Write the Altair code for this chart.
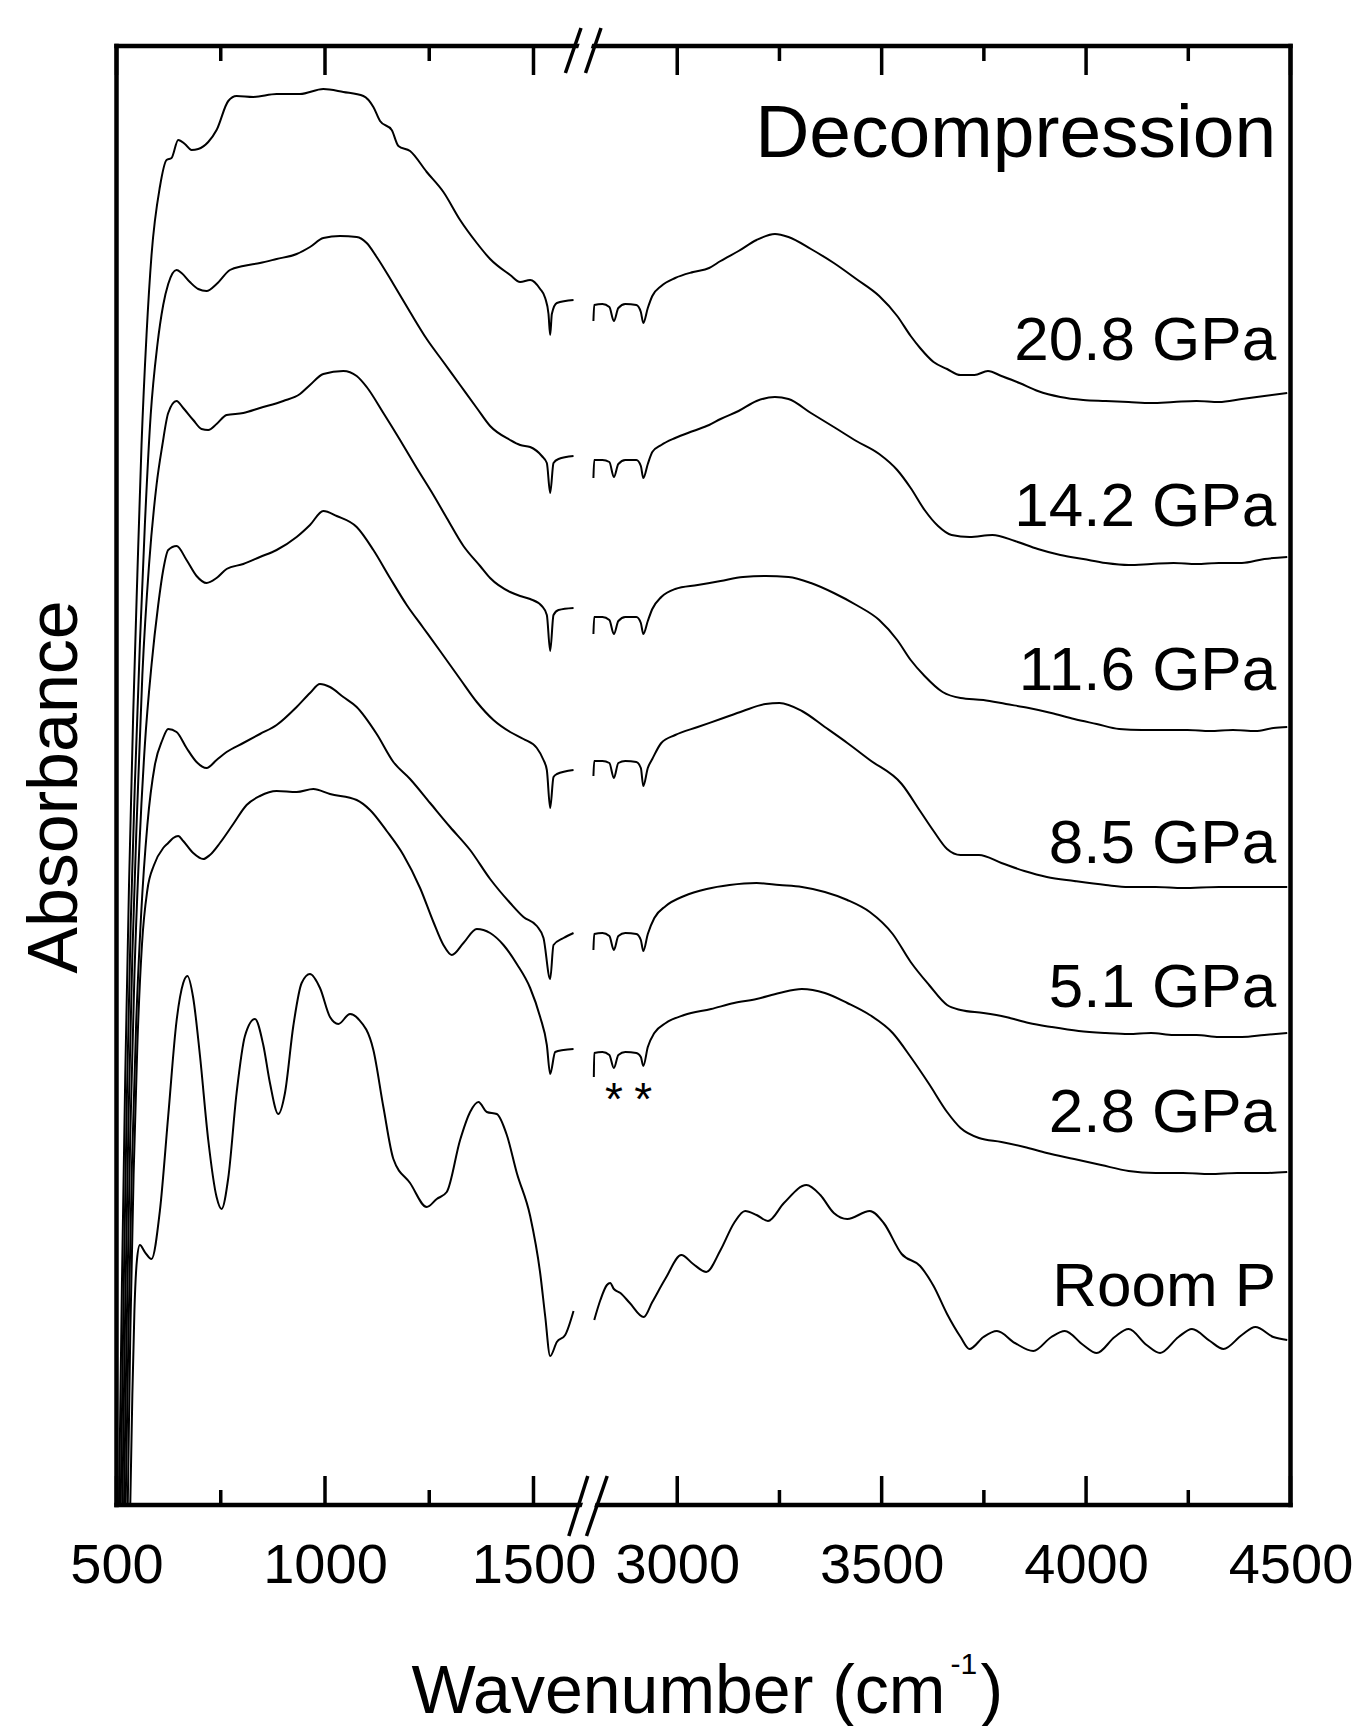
import altair as alt
import pandas as pd

FONT = "Liberation Sans"

# ---- spectra: (wavenumber cm-1, absorbance in arbitrary offset units) ----
P208_L = [(502,-100),(506,0),(513,220),(521,430),(530,620),(540,790),(550,930),(560,1060),(572,1170),(584,1250),
          (604,1318),(620,1345),(632,1347),(648,1365),(664,1361),(680,1355),(696,1356),(720,1363),(740,1375),
          (768,1404),(788,1409),(828,1408),(884,1411),(940,1411),(996,1416),(1044,1413),(1092,1409),(1116,1398),
          (1132,1384),(1160,1375),(1176,1359),(1204,1354),(1244,1333),(1284,1313),(1324,1285),(1364,1262),
          (1396,1246),(1444,1230),(1468,1223),(1492,1225),(1516,1216),(1528,1207),(1536,1191),(1540,1170),
          (1544,1191),(1556,1202),(1596,1205)]
P208_R = [(2795,1184),(2797,1200),(2817,1201),(2834,1198),(2845,1184),(2856,1197),(2873,1201),(2900,1200),
          (2911,1193),(2917,1182),(2928,1197),(2939,1209),(2961,1219),(2995,1227),(3039,1233),(3078,1237),
          (3106,1244),(3150,1254),(3194,1265),(3239,1271),(3272,1268),(3327,1256),(3383,1242),(3438,1226),
          (3494,1209),(3538,1189),(3571,1169),(3594,1157),(3627,1143),(3660,1136),(3693,1130),(3727,1130),
          (3760,1134),(3793,1129),(3837,1122),(3882,1114),(3937,1108),(3993,1105),(4048,1104),(4104,1103),
          (4159,1102),(4214,1103),(4270,1104),(4325,1103),(4381,1106),(4436,1109),(4492,1112)]

P142_L = [(506,-100),(510,0),(517,210),(525,410),(534,580),(544,720),(556,860),(568,980),(582,1090),(598,1160),
          (612,1200),(624,1221),(644,1235),(656,1232),(676,1223),(696,1216),(716,1214),(740,1221),(772,1235),
          (804,1239),(844,1242),(884,1246),(932,1251),(964,1258),(996,1267),(1036,1269),(1076,1268),(1100,1262),
          (1124,1248),(1164,1221),(1204,1193),(1244,1166),(1284,1143),(1324,1120),(1364,1097),(1396,1079),
          (1444,1065),(1468,1060),(1492,1058),(1520,1049),(1532,1042),(1540,1012),(1548,1042),(1560,1046),
          (1596,1049)]
P142_R = [(2795,1027),(2797,1045),(2817,1045),(2834,1043),(2845,1028),(2856,1041),(2873,1045),(2900,1045),
          (2911,1039),(2917,1027),(2928,1041),(2939,1053),(2961,1060),(2995,1067),(3039,1074),(3078,1080),
          (3106,1086),(3150,1094),(3194,1104),(3239,1108),(3272,1106),(3327,1092),(3383,1078),(3438,1064),
          (3494,1051),(3538,1035),(3571,1017),(3605,995),(3638,979),(3671,970),(3715,968),(3771,970),(3826,964),
          (3882,956),(3937,950),(3993,946),(4048,942),(4104,940),(4159,941),(4214,942),(4270,941),(4325,942),
          (4381,942),(4436,946),(4492,948)]

P116_L = [(510,-100),(514,0),(521,200),(529,390),(538,550),(549,690),(562,830),(578,940),(596,1020),(610,1060),
          (624,1092),(644,1104),(660,1097),(684,1085),(704,1076),(720,1075),(740,1081),(764,1090),(804,1092),
          (844,1097),(900,1104),(940,1111),(964,1120),(996,1131),(1044,1134),(1076,1129),(1100,1118),(1140,1092),
          (1180,1065),(1220,1037),(1260,1010),(1292,987),(1332,959),(1372,939),(1396,927),(1444,913),(1468,909),
          (1492,906),(1520,899),(1532,890),(1540,854),(1548,890),(1560,895),(1596,897)]
P116_R = [(2795,871),(2797,888),(2817,888),(2834,885),(2845,871),(2856,884),(2873,888),(2900,888),(2911,882),
          (2917,871),(2928,884),(2939,896),(2961,908),(2995,916),(3050,920),(3106,924),(3161,928),(3216,929),
          (3272,928),(3327,922),(3383,912),(3438,900),(3494,885),(3538,865),(3571,845),(3605,829),(3649,813),
          (3693,807),(3749,805),(3804,801),(3860,797),(3915,792),(3971,786),(4026,781),(4081,776),(4137,775),
          (4192,775),(4248,775),(4303,774),(4359,775),(4414,774),(4458,777),(4492,778)]

P85_L = [(514,-100),(518,0),(525,190),(533,370),(543,530),(555,660),(568,760),(584,840),(600,900),(612,935),
         (624,955),(644,959),(668,945),(692,929),(716,922),(740,927),(764,936),(804,941),(844,948),(884,955),
         (932,968),(964,980),(996,994),(1028,989),(1076,978),(1116,955),(1156,927),(1196,900),(1236,877),
         (1276,854),(1324,826),(1364,803),(1404,785),(1444,773),(1476,766),(1508,757),(1524,745),(1532,735),
         (1540,697),(1548,728),(1556,731),(1596,735)]
P85_R = [(2795,729),(2797,744),(2817,744),(2834,742),(2845,727),(2856,742),(2873,744),(2900,743),(2911,737),
         (2917,719),(2928,737),(2939,746),(2961,762),(2995,770),(3050,778),(3106,786),(3161,794),(3216,801),
         (3250,802),(3305,794),(3361,778),(3416,762),(3471,745),(3549,721),(3594,694),(3627,674),(3660,656),
         (3693,650),(3738,650),(3793,642),(3849,634),(3904,628),(3971,624),(4048,620),(4104,618),(4170,618),
         (4237,617),(4325,618),(4414,618),(4492,618)]

P51_L = [(518,-100),(522,0),(529,180),(537,340),(547,480),(559,590),(574,680),(592,740),(610,765),(624,776),
         (644,773),(668,757),(692,743),(716,737),(740,745),(764,753),(804,762),(844,771),(884,780),(932,798),
         (964,812),(988,821),(1012,818),(1044,808),(1076,798),(1124,771),(1164,743),(1204,726),(1252,702),
         (1300,678),(1348,655),(1396,626),(1444,602),(1476,588),(1508,579),(1524,567),(1540,526),(1548,560),
         (1572,567),(1596,572)]
P51_R = [(2795,555),(2797,571),(2817,572),(2834,569),(2845,555),(2856,569),(2873,572),(2900,571),(2911,565),
         (2917,554),(2928,571),(2944,587),(2972,599),(3017,609),(3072,616),(3128,620),(3194,622),(3250,620),
         (3305,618),(3361,613),(3416,605),(3471,593),(3527,571),(3571,543),(3616,520),(3660,500),(3693,495),
         (3749,492),(3804,488),(3860,482),(3915,478),(3982,474),(4048,472),(4104,471),(4159,472),(4214,470),
         (4270,470),(4325,468),(4381,468),(4436,470),(4492,472)]

P28_L = [(523,-100),(527,0),(533,170),(541,330),(550,460),(561,560),(574,615),(590,640),(612,657),(624,662),
         (636,667),(648,669),(660,664),(684,652),(708,646),(724,650),(748,662),(780,681),(812,700),(844,709),
         (884,714),(932,713),(972,716),(1012,711),(1076,705),(1108,695),(1148,674),(1188,650),(1228,617),
         (1260,583),(1284,560),(1304,550),(1332,562),(1364,576),(1396,572),(1428,560),(1460,541),(1492,517),
         (1516,488),(1532,460),(1540,431),(1552,453),(1572,455),(1596,456)]
P28_R = [(2796,428),(2797,452),(2817,453),(2834,450),(2845,437),(2856,450),(2873,453),(2900,452),(2911,448),
         (2917,439),(2928,458),(2944,472),(2972,482),(3017,490),(3083,496),(3139,502),(3194,506),(3250,512),
         (3305,516),(3361,512),(3416,502),(3471,490),(3527,472),(3571,448),(3616,421),(3660,393),(3693,377),
         (3738,367),(3793,363),(3849,358),(3904,352),(3971,346),(4037,340),(4104,334),(4170,332),(4237,332),
         (4303,331),(4370,332),(4436,332),(4492,333)]

PRT_L = [(529,-100),(533,0),(538,110),(543,195),(549,245),(556,260),(568,253),(584,246),(604,294),(624,389),
         (644,484),(660,522),(670,529),(684,507),(700,450),(720,365),(740,308),(752,296),(768,327),(788,412),
         (808,469),(832,486),(852,460),(868,422),(888,391),(904,412),(924,479),(944,522),(964,531),(988,517),
         (1012,488),(1032,481),(1060,491),(1080,486),(1116,455),(1140,398),(1164,346),(1204,322),(1244,298),
         (1268,306),(1292,313),(1324,365),(1348,393),(1368,403),(1388,393),(1412,391),(1436,370),(1460,332),
         (1492,289),(1516,232),(1528,189),(1540,149),(1556,163),(1576,170),(1596,194)]
PRT_R = [(2797,185),(2812,205),(2828,220),(2836,222),(2845,216),(2861,212),(2884,202),(2918,188),(2939,203),
         (2972,227),(3010,250),(3039,241),(3071,233),(3106,255),(3139,282),(3166,294),(3194,290),(3222,284),
         (3261,302),(3316,320),(3350,310),(3383,292),(3416,286),(3471,294),(3505,282),(3549,251),(3594,239),
         (3627,219),(3660,191),(3693,168),(3715,156),(3749,168),(3782,174),(3826,162),(3871,154),(3915,168),
         (3948,174),(3993,160),(4026,152),(4070,168),(4104,176),(4148,160),(4181,152),(4226,168),(4259,176),
         (4303,164),(4336,156),(4381,170),(4414,178),(4458,168),(4492,165)]

CURVES = [("20.8 GPa", P208_L, P208_R), ("14.2 GPa", P142_L, P142_R), ("11.6 GPa", P116_L, P116_R),
          ("8.5 GPa", P85_L, P85_R), ("5.1 GPa", P51_L, P51_R), ("2.8 GPa", P28_L, P28_R),
          ("Room P", PRT_L, PRT_R)]

LABELS = ["20.8 GPa", "14.2 GPa", "11.6 GPa", "8.5 GPa", "5.1 GPa", "2.8 GPa", "Room P"]
LABEL_AB = [1145, 979, 815, 642, 498, 373, 199]
LABEL_WN = 4465
TITLE_TEXT = "Decompression"
TITLE_AB = 1348
STAR_WN = [2845, 2917]
STAR_AB = [390, 390]

MAJOR = [500, 1000, 1500, 3000, 3500, 4000, 4500]
MINOR = [750, 1250, 3250, 3750, 4250]
BREAK_LO, BREAK_HI = 1630, 2781

# ---- geometry ----
W, H = 1174, 1459
B = 471.2  # pixel of the axis break inside the plot
X_SCALE = alt.Scale(domain=[500, BREAK_LO, BREAK_HI, 4500], range=[0, B, B, W], nice=False, zero=False)
Y_SCALE = alt.Scale(domain=[0, H], nice=False, zero=False)
X_AXIS = alt.Axis(values=MAJOR, title=None, grid=False, ticks=False, tickSize=0, domain=False,
                  labelFontSize=56, labelFont=FONT, labelColor="black", labelPadding=33,
                  labelOverlap=False, labelFlush=False, format="d")

rows = []
for name, lo, hi in CURVES:
    for seg, pts in (("lo", lo), ("hi", hi)):
        for wn, ab in pts:
            rows.append({"curve": name, "key": name + "_" + seg, "wn": wn, "ab": ab})
df = pd.DataFrame(rows)

dummy = pd.DataFrame({"d": [0]})


def xq(field):
    return alt.X(field, type="quantitative", scale=X_SCALE, axis=X_AXIS)


def seg(x1, y1, x2, y2, color="black", width=3.5, cap="butt"):
    return alt.Chart(dummy).mark_rule(color=color, strokeWidth=width, strokeCap=cap).encode(
        x=alt.value(x1), y=alt.value(y1), x2=alt.value(x2), y2=alt.value(y2))


frame = [
    seg(0, H, W, H, width=4.5, cap="square"),
    seg(0, 0, W, 0, width=4.5, cap="square"),
    seg(0, 0, 0, H, width=4.5, cap="square"),
    seg(W, 0, W, H, width=4.5, cap="square"),
]

breaks = [
    # bottom axis
    seg(B + 0.9 - 2.5, H + 8, B + 0.9 + 2.5, H - 8, color="white", width=12),
    seg(B - 18.9, H + 31, B + 0.1, H - 29),
    seg(B - 1.2, H + 31, B + 19.5, H - 29),
    # top axis
    seg(B - 2.5 - 2.5, 8, B - 2.5 + 2.5, -8, color="white", width=12),
    seg(B - 22.3, 27, B - 6.7, -18),
    seg(B - 2.2, 27, B + 13.3, -18),
]

major_df = pd.DataFrame({"t": MAJOR})
minor_df = pd.DataFrame({"t": MINOR})
ticks = []
for d, ln in ((major_df, 29), (minor_df, 15)):
    ticks.append(alt.Chart(d).mark_rule(color="black", strokeWidth=3.5).encode(
        x=xq("t"), y=alt.value(H), y2=alt.value(H - ln)))
    ticks.append(alt.Chart(d).mark_rule(color="black", strokeWidth=3.5).encode(
        x=xq("t"), y=alt.value(0), y2=alt.value(ln)))

lines = alt.Chart(df).mark_line(color="black", strokeWidth=2, clip=True, interpolate="monotone").encode(
    x=xq("wn"), y=alt.Y("ab:Q", scale=Y_SCALE, axis=None), detail="key:N")

lab_df = pd.DataFrame({"label": LABELS, "ab": LABEL_AB, "wn": [LABEL_WN] * len(LABELS)})
labels = alt.Chart(lab_df).mark_text(align="right", baseline="alphabetic", fontSize=62, font=FONT,
                                     color="black").encode(
    x=xq("wn"), y=alt.Y("ab:Q", scale=Y_SCALE, axis=None), text="label:N")

ttl_df = pd.DataFrame({"label": [TITLE_TEXT], "ab": [TITLE_AB], "wn": [LABEL_WN]})
title = alt.Chart(ttl_df).mark_text(align="right", baseline="alphabetic", fontSize=75, font=FONT,
                                    color="black").encode(
    x=xq("wn"), y=alt.Y("ab:Q", scale=Y_SCALE, axis=None), text="label:N")

star_df = pd.DataFrame({"wn": STAR_WN, "ab": STAR_AB, "s": ["*", "*"]})
stars = alt.Chart(star_df).mark_text(align="center", baseline="alphabetic", fontSize=46, font=FONT,
                                     color="black").encode(
    x=xq("wn"), y=alt.Y("ab:Q", scale=Y_SCALE, axis=None), text="s:N")


def txt(text, x, y, size, align="left", angle=0):
    return alt.Chart(dummy).mark_text(text=text, fontSize=size, font=FONT, color="black", align=align,
                                      baseline="alphabetic", angle=angle).encode(
        x=alt.value(x), y=alt.value(y))


ytitle = txt("Absorbance", -39.5, 741, 70, align="center", angle=270)
xt1 = txt("Wavenumber (cm", 829, 1667, 68, align="right")
xt2 = txt("-1", 834, 1628, 30, align="left")
xt3 = txt(")", 864, 1667, 68, align="left")

chart = alt.layer(
    lines, *frame, *breaks, *ticks, labels, title, stars, ytitle, xt1, xt2, xt3
).properties(
    width=W, height=H,
    autosize=alt.AutoSizeParams(type="none"),
    padding={"left": 116.5, "top": 46, "right": 68.5, "bottom": 221},
).configure_view(stroke=None).configure(font=FONT)

chart.save("out.html", embed_options={"renderer": "svg", "actions": False})
